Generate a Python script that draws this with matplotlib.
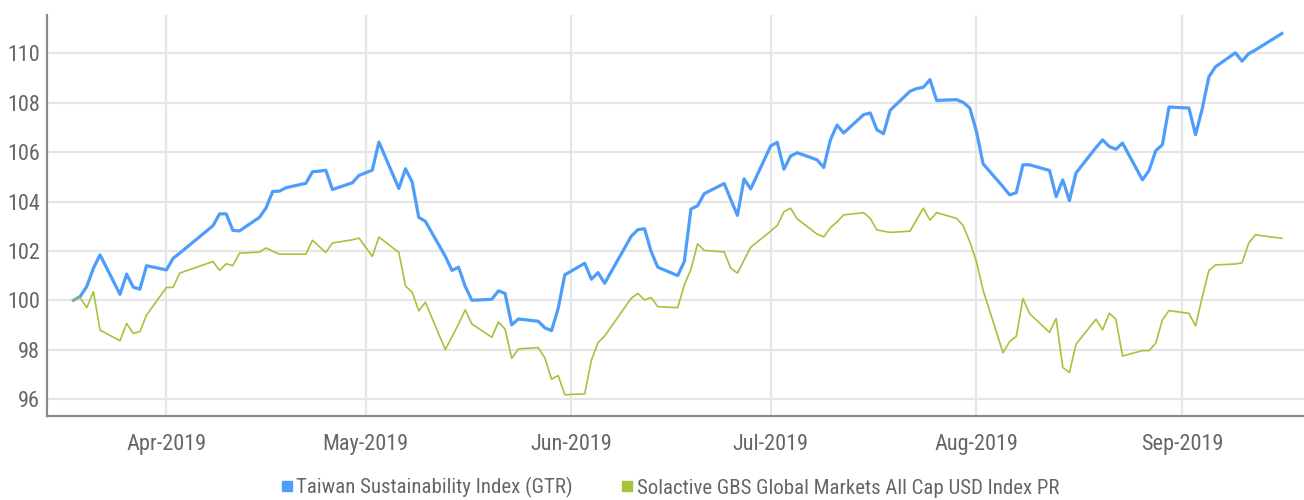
import numpy as np
import pandas as pd
import matplotlib
matplotlib.use('Agg')
import matplotlib.pyplot as plt
import matplotlib.dates as mdates
from matplotlib.lines import Line2D
from matplotlib import font_manager

# trading days (Taiwan calendar)
holidays = ['2019-04-04', '2019-04-05', '2019-05-01', '2019-06-07', '2019-09-13']
dates = pd.bdate_range('2019-03-18', '2019-09-16', freq='C', holidays=holidays)

taiwan = [
    100.00, 100.15, 100.56, 101.30, 101.84,
    100.24, 101.06, 100.53, 100.45, 101.40,
    101.23, 101.70, 101.91,
    103.02, 103.50, 103.50, 102.83, 102.81,
    103.36, 103.74, 104.41, 104.42, 104.56,
    104.74, 105.21, 105.23, 105.27, 104.49,
    104.76, 105.06, 105.27, 106.41,
    104.53, 105.33, 104.80, 103.36, 103.20,
    101.78, 101.21, 101.34, 100.56, 100.00,
    100.04, 100.38, 100.28, 99.00, 99.24,
    99.15, 98.88, 98.77, 99.67, 101.03,
    101.50, 100.85, 101.12, 100.69,
    102.59, 102.86, 102.90, 101.98, 101.34,
    101.00, 101.57, 103.70, 103.83, 104.32,
    104.73, 104.08, 103.44, 104.92, 104.51,
    106.25, 106.40, 105.31, 105.84, 105.98,
    105.69, 105.38, 106.50, 107.10, 106.78,
    107.52, 107.59, 106.91, 106.75, 107.70,
    108.47, 108.58, 108.63, 108.94, 108.10,
    108.13, 108.02, 107.79, 106.84, 105.53,
    104.60, 104.27, 104.36, 105.49, 105.49,
    105.26, 104.20, 104.88, 104.04, 105.16,
    106.19, 106.50, 106.23, 106.12, 106.37,
    104.88, 105.26, 106.06, 106.30, 107.83,
    107.79, 106.71, 107.75, 109.05, 109.46,
    110.03, 109.69, 109.99, 110.14,
    110.81,
]

solactive = [
    100.00, 100.11, 99.70, 100.35, 98.79,
    98.36, 99.06, 98.66, 98.73, 99.40,
    100.52, 100.52, 101.10,
    101.57, 101.21, 101.48, 101.40, 101.91,
    101.95, 102.12, 101.99, 101.87, 101.87,
    101.87, 102.43, 102.18, 101.94, 102.32,
    102.45, 102.52, 101.78, 102.56,
    101.94, 100.58, 100.33, 99.57, 99.92,
    98.00, 98.52, 99.04, 99.61, 99.04,
    98.50, 99.12, 98.83, 97.65, 98.03,
    98.08, 97.66, 96.80, 96.95, 96.17,
    96.21, 97.57, 98.28, 98.55,
    100.08, 100.28, 100.01, 100.11, 99.74,
    99.70, 100.62, 101.26, 102.29, 102.02,
    101.96, 101.30, 101.10, 101.63, 102.15,
    102.80, 103.03, 103.59, 103.73, 103.30,
    102.68, 102.57, 102.94, 103.18, 103.46,
    103.55, 103.32, 102.85, 102.80, 102.75,
    102.80, 103.28, 103.73, 103.25, 103.55,
    103.32, 103.02, 102.37, 101.56, 100.41,
    97.87, 98.33, 98.54, 100.07, 99.46,
    98.70, 99.26, 97.28, 97.07, 98.22,
    99.23, 98.80, 99.47, 99.23, 97.74,
    97.96, 97.96, 98.26, 99.20, 99.58,
    99.47, 98.96, 100.12, 101.20, 101.43,
    101.47, 101.52, 102.31, 102.65,
    102.51,
]

labels = ['Taiwan Sustainability Index (GTR)',
          'Solactive GBS Global Markets All Cap USD Index PR']
colors = ['#4f9dfb', '#a7c23c']
yticks = [96, 98, 100, 102, 104, 106, 108, 110]

# narrow font if there is one, else Roboto
names = {f.name for f in font_manager.fontManager.ttflist}
narrow = [n for n in ['Roboto Condensed', 'Liberation Sans Narrow'] if n in names]
plt.rcParams['font.family'] = narrow + ['Roboto', 'DejaVu Sans']
fs = 16 if narrow else 14.5
txt = '#666666'

fig = plt.figure(figsize=(13.04, 5), dpi=100)
ax = fig.add_axes([0.036, 0.168, 0.964, 0.802])

ax.plot(dates, taiwan, color=colors[0], lw=2.3, zorder=3)
ax.plot(dates, solactive, color=colors[1], lw=1.2, zorder=3)

ax.set_xlim(pd.Timestamp('2019-03-14'), pd.Timestamp('2019-09-19 08:00'))
ax.set_ylim(95.31, 111.56)
ax.set_yticks(yticks)
ax.xaxis.set_major_locator(mdates.MonthLocator())
ax.xaxis.set_major_formatter(mdates.DateFormatter('%b-%Y'))

ax.grid(True, color='#e6e6e6', lw=1.6, zorder=0)
ax.tick_params(length=0, labelsize=fs, colors=txt)
ax.tick_params(axis='y', pad=5)
ax.tick_params(axis='x', pad=13)

for s in ['top', 'right']:
    ax.spines[s].set_visible(False)
for s in ['left', 'bottom']:
    ax.spines[s].set_color('#8a8a8a')
    ax.spines[s].set_linewidth(1.6)

handles = [Line2D([], [], marker='s', ls='none', color=c, markersize=7) for c in colors]
fig.legend(handles, labels, loc='lower center', ncol=2, frameon=False,
           bbox_to_anchor=(0.513, -0.034), fontsize=15, labelcolor=txt,
           handletextpad=0.05, columnspacing=2.2, handlelength=0.8)

fig.savefig('out.png', dpi=100)
